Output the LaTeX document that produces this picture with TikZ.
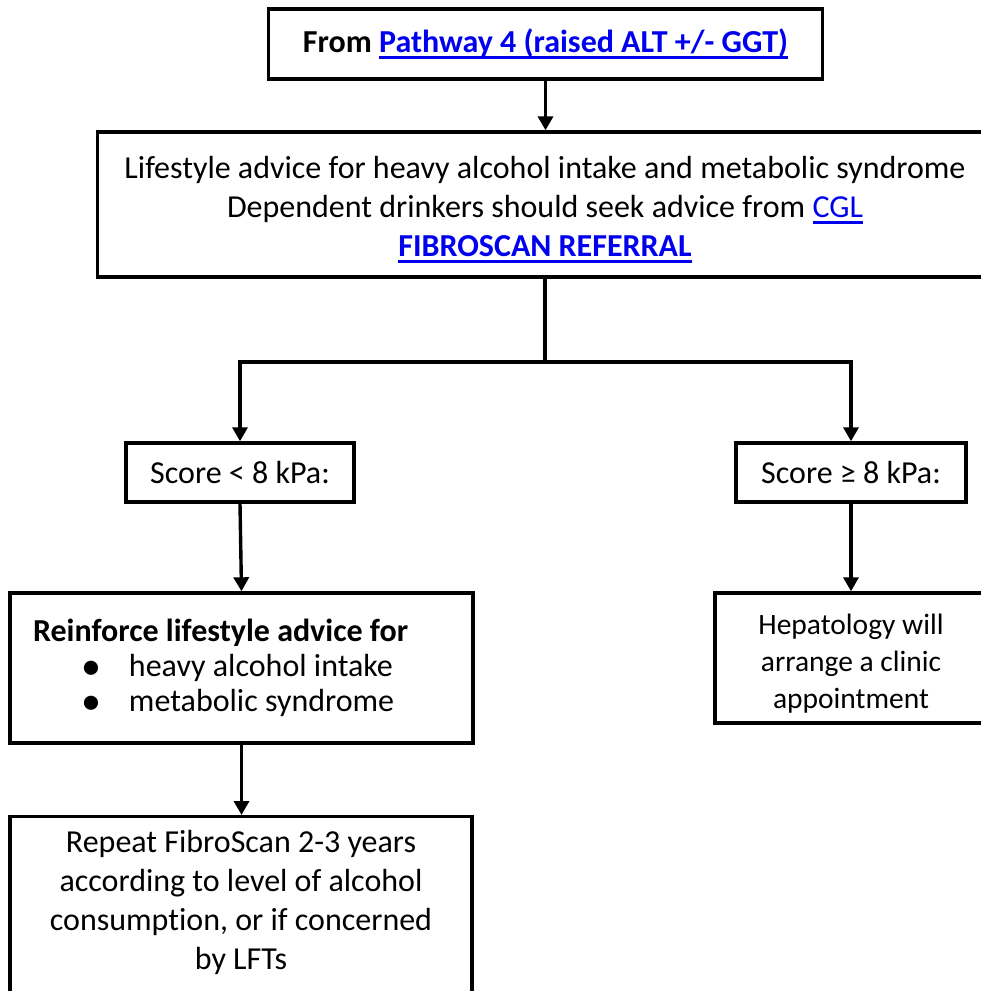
\documentclass[tikz,border=0pt]{standalone}
\usepackage{fontspec}
\setmainfont{Carlito}[Ligatures=NoCommon]
\usetikzlibrary{arrows.meta}
\definecolor{linkblue}{RGB}{0,0,238}
\newcommand\lnk[1]{{\color{linkblue}\setbox0\hbox{#1}\rlap{\rule[-0.19em]{\wd0}{0.1em}}\box0}}
\newcommand\bigbullet{\raisebox{-2.5pt}{\scalebox{1.25}{\textbullet}}}
\begin{document}
\begin{tikzpicture}[x=1pt,y=-1pt,
  box/.style={draw, line width=3.4pt, inner sep=0pt, align=center, font=\fontsize{32}{39}\selectfont},
  arr/.style={line width=3.4pt, -{Triangle[width=15pt,length=14pt]}},
  ln/.style={line width=3.4pt}]
\useasboundingbox (0,0) rectangle (981,991);
\clip (0,0) rectangle (981,991);

\node[box, minimum width=554pt, minimum height=70pt] (top) at (545.5,44)
  {\textbf{From \lnk{Pathway 4 (raised ALT +/- GGT)}}};
\node[box, minimum width=895pt, minimum height=145pt] (big) at (545,204.5)
  {\rule{0pt}{33pt}Lifestyle advice for heavy alcohol intake and metabolic syndrome\\
   Dependent drinkers should seek advice from \lnk{CGL}\\
   \textbf{\lnk{FIBROSCAN REFERRAL}}};
\node[box, minimum width=228pt, minimum height=59pt] (lscore) at (240,472.5) {Score < 8 kPa:};
\node[box, minimum width=230pt, minimum height=59pt] (rscore) at (851,472.5) {Score ≥ 8 kPa:};
\node[box, align=flush left, text width=417pt, inner xsep=23pt, minimum height=150pt] (rein) at (241.5,668)
  {\textbf{Reinforce lifestyle advice for}\\[-4pt]
   \hspace*{48pt}\makebox[48pt][l]{\bigbullet}heavy alcohol intake\\[-4pt]
   \hspace*{48pt}\makebox[48pt][l]{\bigbullet}metabolic syndrome};
\node[box, minimum width=272pt, minimum height=130pt, font=\fontsize{29.5}{37}\selectfont] (hep) at (851,658)
  {\rule{0pt}{31pt}Hepatology will\\arrange a clinic\\appointment};
\node[box, minimum width=462pt, anchor=north, inner ysep=14pt] (rep) at (241,815)
  {Repeat FibroScan 2-3 years\\according to level of alcohol\\consumption, or if concerned\\by LFTs\\[10pt]\mbox{}};

\coordinate (j) at (545,362);
\draw[arr] (top.south) -- (top.south |- big.north);
\draw[ln] (big.south) -- (j);
\draw[arr] (j) -| (lscore.north);
\draw[arr] (j) -| (rscore.north);
\draw[arr] (lscore.south) -- (rein.north);
\draw[arr] (rein.south) -- (rein.south |- rep.north);
\draw[arr] (rscore.south) -- (hep.north);
\end{tikzpicture}
\end{document}
